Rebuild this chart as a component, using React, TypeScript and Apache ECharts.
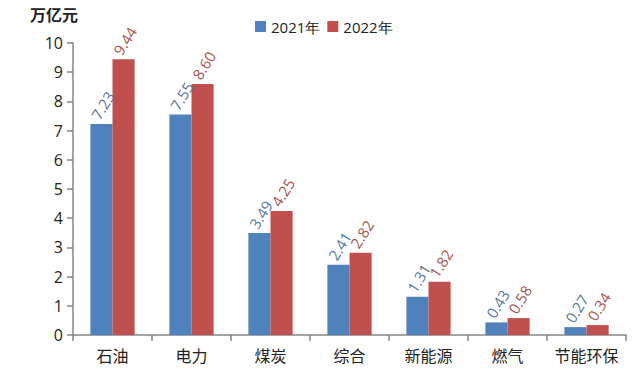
import React, { useEffect, useRef } from "react";
import * as echarts from "echarts";

const categories = ["石油", "电力", "煤炭", "综合", "新能源", "燃气", "节能环保"];
const values2021 = [7.23, 7.55, 3.49, 2.41, 1.31, 0.43, 0.27];
const values2022 = [9.44, 8.6, 4.25, 2.82, 1.82, 0.58, 0.34];
const seriesNames = ["2021年", "2022年"];
const yTicks = { min: 0, max: 10, interval: 1 };

export default function App() {
  const ref = useRef<HTMLDivElement>(null);
  useEffect(() => {
    if (!ref.current) return;
    const chart = echarts.init(ref.current, null, { renderer: "svg" });
    const numFont = "'Open Sans', 'Noto Sans', sans-serif";
    const mkLabel = (color: string) => ({
      show: true,
      position: ["20%", -6] as any,
      rotate: 58,
      align: "left" as const,
      verticalAlign: "middle" as const,
      color,
      fontSize: 15,
      fontFamily: numFont,
      formatter: (p: any) => p.value.toFixed(2),
    });
    chart.setOption({
      animation: false,
      backgroundColor: "#fff",
      grid: { left: 73, right: 14, top: 43, bottom: 46, containLabel: false },
      legend: {
        top: 14,
        left: 250,
        itemWidth: 11,
        itemHeight: 11,
        itemGap: 7,
        icon: "rect",
        textStyle: { fontSize: 15, color: "#222", fontFamily: numFont },
        data: seriesNames,
      },
      graphic: [
        {
          type: "text",
          left: 30,
          top: 6,
          style: {
            text: "万亿元",
            fontSize: 16,
            fontWeight: "bold",
            fill: "#222",
            fontFamily: "'Noto Sans CJK SC', sans-serif",
          },
        },
      ],
      xAxis: {
        type: "category",
        data: categories,
        axisLine: { lineStyle: { color: "#868686", width: 1.5 } },
        axisTick: { show: true, alignWithLabel: false, length: 6, lineStyle: { color: "#868686", width: 1.5 } },
        axisLabel: {
          interval: 0,
          color: "#222",
          fontSize: 16,
          margin: 12,
          fontFamily: "'Noto Sans CJK SC', sans-serif",
        },
      },
      yAxis: {
        type: "value",
        min: yTicks.min,
        max: yTicks.max,
        interval: yTicks.interval,
        splitLine: { show: false },
        axisLine: { show: true, lineStyle: { color: "#868686", width: 1.5 } },
        axisTick: { show: true, length: 6, lineStyle: { color: "#868686", width: 1.5 } },
        axisLabel: { color: "#222", fontSize: 16, margin: 10, fontFamily: numFont },
      },
      series: [
        {
          name: seriesNames[0],
          type: "bar",
          data: values2021,
          barGap: "0%",
          barCategoryGap: "44%",
          itemStyle: { color: "#4F81BD" },
          label: mkLabel("#5a77a0"),
        },
        {
          name: seriesNames[1],
          type: "bar",
          data: values2022,
          itemStyle: { color: "#C0504D" },
          label: mkLabel("#a8544f"),
        },
      ],
    });
    return () => chart.dispose();
  }, []);
  return <div ref={ref} style={{ width: 640, height: 381, margin: -8 }} />;
}
